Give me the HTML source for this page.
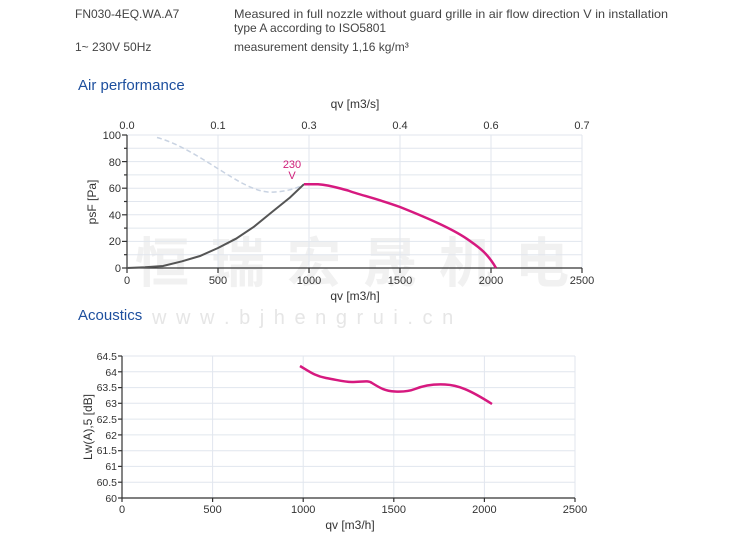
<!DOCTYPE html>
<html><head><meta charset="utf-8"><style>
html,body{margin:0;padding:0;background:#fff;width:750px;height:538px;overflow:hidden}
svg{display:block;font-family:"Liberation Sans",Arial,sans-serif}
</style></head><body>
<svg width="750" height="538" viewBox="0 0 750 538" xmlns="http://www.w3.org/2000/svg">
<g fill="#444" font-size="12">
<text x="75" y="18">FN030-4EQ.WA.A7</text>
<text x="234" y="18" textLength="434" lengthAdjust="spacingAndGlyphs">Measured in full nozzle without guard grille in air flow direction V in installation</text>
<text x="234" y="32">type A according to ISO5801</text>
<text x="75" y="51">1~ 230V 50Hz</text>
<text x="234" y="51">measurement density 1,16 kg/m³</text>
</g>
<text x="78" y="90" fill="#1d4f9e" font-size="15">Air performance</text>
<text x="78" y="320" fill="#1d4f9e" font-size="15">Acoustics</text>

<text x="135" y="282" fill="#f1f1f1" font-size="54" font-weight="bold" font-family="'Noto Sans CJK SC',sans-serif" letter-spacing="22">恒瑞宏晟机电</text>
<text x="152" y="324" fill="#e6e6e6" font-size="20" letter-spacing="2">w w w . b j h e n g r u i . c n</text>

<g stroke="#e1e6ee" stroke-width="1">
<line x1="127" y1="148.3" x2="582" y2="148.3"/><line x1="127" y1="161.6" x2="582" y2="161.6"/>
<line x1="127" y1="174.9" x2="582" y2="174.9"/><line x1="127" y1="188.2" x2="582" y2="188.2"/>
<line x1="127" y1="201.5" x2="582" y2="201.5"/><line x1="127" y1="214.8" x2="582" y2="214.8"/>
<line x1="127" y1="228.1" x2="582" y2="228.1"/><line x1="127" y1="241.4" x2="582" y2="241.4"/>
<line x1="127" y1="254.7" x2="582" y2="254.7"/><line x1="127" y1="135" x2="582" y2="135"/>
<line x1="218" y1="135" x2="218" y2="268"/><line x1="309" y1="135" x2="309" y2="268"/>
<line x1="400" y1="135" x2="400" y2="268"/><line x1="491" y1="135" x2="491" y2="268"/>
<line x1="582" y1="135" x2="582" y2="268"/>
</g>
<g stroke="#333" stroke-width="1.2">
<line x1="127" y1="135" x2="127" y2="268"/><line x1="127" y1="268" x2="582" y2="268"/>
<line x1="122" y1="135" x2="127" y2="135"/><line x1="124" y1="148.3" x2="127" y2="148.3"/>
<line x1="122" y1="161.6" x2="127" y2="161.6"/><line x1="124" y1="174.9" x2="127" y2="174.9"/>
<line x1="122" y1="188.2" x2="127" y2="188.2"/><line x1="124" y1="201.5" x2="127" y2="201.5"/>
<line x1="122" y1="214.8" x2="127" y2="214.8"/><line x1="124" y1="228.1" x2="127" y2="228.1"/>
<line x1="122" y1="241.4" x2="127" y2="241.4"/><line x1="124" y1="254.7" x2="127" y2="254.7"/>
<line x1="122" y1="268" x2="127" y2="268"/>
<line x1="127" y1="268" x2="127" y2="273"/><line x1="218" y1="268" x2="218" y2="273"/>
<line x1="309" y1="268" x2="309" y2="273"/><line x1="400" y1="268" x2="400" y2="273"/>
<line x1="491" y1="268" x2="491" y2="273"/><line x1="582" y1="268" x2="582" y2="273"/>
</g>
<g fill="#333" font-size="11">
<g text-anchor="end">
<text x="121" y="139">100</text><text x="121" y="166">80</text><text x="121" y="192">60</text>
<text x="121" y="219">40</text><text x="121" y="245">20</text><text x="121" y="272">0</text>
</g>
<g text-anchor="middle">
<text x="127" y="284">0</text><text x="218" y="284">500</text><text x="309" y="284">1000</text>
<text x="400" y="284">1500</text><text x="491" y="284">2000</text><text x="582" y="284">2500</text>
<text x="127" y="129">0.0</text><text x="218" y="129">0.1</text><text x="309" y="129">0.3</text>
<text x="400" y="129">0.4</text><text x="491" y="129">0.6</text><text x="582" y="129">0.7</text>
<text x="355" y="108" font-size="12">qv [m3/s]</text>
<text x="355" y="300" font-size="12">qv [m3/h]</text>
</g>
<text transform="translate(96,202) rotate(-90)" text-anchor="middle" font-size="12">psF [Pa]</text>
</g>
<text x="292" y="168" fill="#d0207a" font-size="11" text-anchor="middle">230</text>
<text x="292" y="179" fill="#d0207a" font-size="11" text-anchor="middle">V</text>
<path d="M157,137.5 C185,145 215,168 240,182 C255,190 265,193 275,192 C290,191 300,187 304,184" fill="none" stroke="#c9d3e2" stroke-width="1.5" stroke-dasharray="5,3"/>
<path d="M127,268 L145,267.3 L163,266 L182,261.3 L200,256 L218,248 L236,238.7 L254,226.7 L272,212 L290,197.5 L304,184.2" fill="none" stroke="#555" stroke-width="2"/>
<path d="M304,184.2 L318,184.2 C330,185 338,188 348,190.5 C360,195 375,198 400,207 C430,219 455,230 470,241 C480,248 488,254 496,268" fill="none" stroke="#d6197f" stroke-width="2.5"/>

<g stroke="#e1e6ee" stroke-width="1">
<line x1="122" y1="356" x2="575" y2="356"/><line x1="122" y1="371.8" x2="575" y2="371.8"/>
<line x1="122" y1="387.6" x2="575" y2="387.6"/><line x1="122" y1="403.3" x2="575" y2="403.3"/>
<line x1="122" y1="419.1" x2="575" y2="419.1"/><line x1="122" y1="434.9" x2="575" y2="434.9"/>
<line x1="122" y1="450.7" x2="575" y2="450.7"/><line x1="122" y1="466.4" x2="575" y2="466.4"/>
<line x1="122" y1="482.2" x2="575" y2="482.2"/>
<line x1="212.6" y1="356" x2="212.6" y2="498"/><line x1="303.2" y1="356" x2="303.2" y2="498"/>
<line x1="393.8" y1="356" x2="393.8" y2="498"/><line x1="484.4" y1="356" x2="484.4" y2="498"/>
<line x1="575" y1="356" x2="575" y2="498"/>
</g>
<g stroke="#333" stroke-width="1.2">
<line x1="122" y1="356" x2="122" y2="498"/><line x1="122" y1="498" x2="575" y2="498"/>
<line x1="118" y1="356" x2="122" y2="356"/><line x1="118" y1="371.8" x2="122" y2="371.8"/>
<line x1="118" y1="387.6" x2="122" y2="387.6"/><line x1="118" y1="403.3" x2="122" y2="403.3"/>
<line x1="118" y1="419.1" x2="122" y2="419.1"/><line x1="118" y1="434.9" x2="122" y2="434.9"/>
<line x1="118" y1="450.7" x2="122" y2="450.7"/><line x1="118" y1="466.4" x2="122" y2="466.4"/>
<line x1="118" y1="482.2" x2="122" y2="482.2"/><line x1="118" y1="498" x2="122" y2="498"/>
<line x1="122" y1="498" x2="122" y2="502"/><line x1="212.6" y1="498" x2="212.6" y2="502"/>
<line x1="303.2" y1="498" x2="303.2" y2="502"/><line x1="393.8" y1="498" x2="393.8" y2="502"/>
<line x1="484.4" y1="498" x2="484.4" y2="502"/><line x1="575" y1="498" x2="575" y2="502"/>
</g>
<g fill="#333" font-size="10.5">
<g text-anchor="end">
<text x="117" y="360">64.5</text><text x="117" y="376">64</text><text x="117" y="391">63.5</text>
<text x="117" y="407">63</text><text x="117" y="423">62.5</text><text x="117" y="439">62</text>
<text x="117" y="454">61.5</text><text x="117" y="470">61</text><text x="117" y="486">60.5</text>
<text x="117" y="502">60</text>
</g>
<g text-anchor="middle" font-size="11">
<text x="122" y="513">0</text><text x="212.6" y="513">500</text><text x="303.2" y="513">1000</text>
<text x="393.8" y="513">1500</text><text x="484.4" y="513">2000</text><text x="575" y="513">2500</text>
<text x="350" y="529" font-size="12">qv [m3/h]</text>
</g>
<text transform="translate(92,427) rotate(-90)" text-anchor="middle" font-size="12">Lw(A),5 [dB]</text>
</g>
<path d="M300,366 C310,372 315,376 326,378 C338,380 343,382 352,382 C362,382 368,380 372,383 C380,388 385,391 395,391.5 C405,392 410,391 415,389 C425,385 435,384 445,384.5 C458,385 470,390 492,404" fill="none" stroke="#d6197f" stroke-width="2.5"/>
</svg>
</body></html>
